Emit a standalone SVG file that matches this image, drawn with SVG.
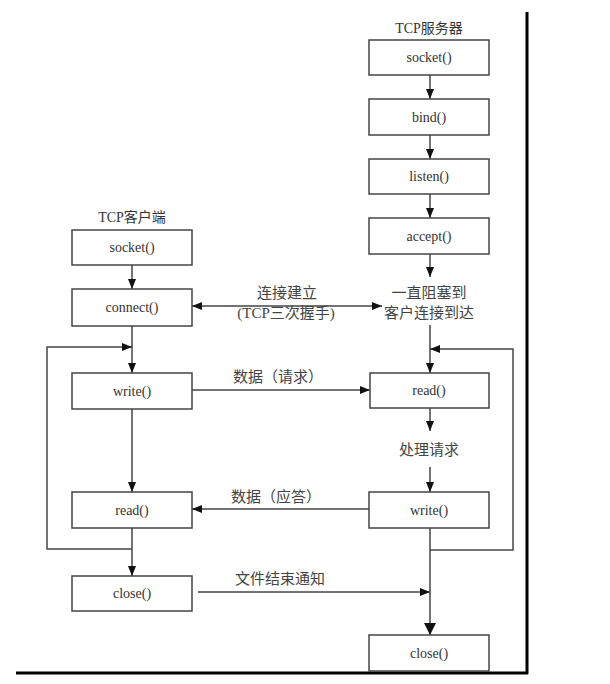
<svg xmlns="http://www.w3.org/2000/svg" width="610" height="684" viewBox="0 0 610 684">
<style>
.box{fill:#fff;stroke:#444;stroke-width:1.5}
.t{font-family:"Liberation Serif","Noto Sans CJK SC",serif;font-size:14px;fill:#333;text-anchor:middle}
.c{font-family:"Liberation Serif","Noto Sans CJK SC",serif;font-size:15px;fill:#444;text-anchor:middle}
.ln{fill:none;stroke:#444;stroke-width:1.5}
</style>
<defs>
<marker id="ah" markerUnits="userSpaceOnUse" markerWidth="10" markerHeight="10" viewBox="0 0 10 10" refX="10" refY="5" orient="auto-start-reverse">
<path d="M0,1 L10,5 L0,9 Z" fill="#111"/>
</marker>
<marker id="ahb" markerUnits="userSpaceOnUse" markerWidth="12" markerHeight="14" viewBox="0 0 12 14" refX="12" refY="7" orient="auto">
<path d="M0,1 L12,7 L0,13 Z" fill="#111"/>
</marker>
</defs>
<rect width="610" height="684" fill="#fff"/>
<g id="frame">
<line x1="527" y1="12" x2="527" y2="674" stroke="#000" stroke-width="3"/>
<line x1="16" y1="673" x2="528" y2="673" stroke="#000" stroke-width="3"/>
</g>
<g id="connectors">
<line class="ln" x1="430" y1="75" x2="430" y2="99" marker-end="url(#ah)"/>
<line class="ln" x1="430" y1="135" x2="430" y2="159" marker-end="url(#ah)"/>
<line class="ln" x1="430" y1="194" x2="430" y2="218" marker-end="url(#ah)"/>
<line class="ln" x1="430" y1="254" x2="430" y2="277" marker-end="url(#ah)"/>
<line class="ln" x1="430" y1="325" x2="430" y2="373" marker-end="url(#ah)"/>
<polyline class="ln" points="430,550 513,550 513,349 430,349" marker-end="url(#ah)"/>
<line class="ln" x1="430" y1="408" x2="430" y2="431" marker-end="url(#ah)"/>
<line class="ln" x1="430" y1="467" x2="430" y2="492" marker-end="url(#ah)"/>
<line class="ln" x1="430" y1="528" x2="430" y2="635" marker-end="url(#ahb)"/>
<line class="ln" x1="132" y1="265" x2="132" y2="289" marker-end="url(#ah)"/>
<line class="ln" x1="132" y1="326" x2="132" y2="373" marker-end="url(#ah)"/>
<polyline class="ln" points="132,549 47,549 47,347 132,347" marker-end="url(#ah)"/>
<line class="ln" x1="132" y1="409" x2="132" y2="492" marker-end="url(#ah)"/>
<line class="ln" x1="132" y1="528" x2="132" y2="576" marker-end="url(#ah)"/>
<line class="ln" x1="192" y1="306" x2="382" y2="306" marker-start="url(#ah)" marker-end="url(#ah)"/>
<line class="ln" x1="192" y1="390" x2="370" y2="390" marker-end="url(#ah)"/>
<line class="ln" x1="369" y1="509" x2="192" y2="509" marker-end="url(#ah)"/>
<line class="ln" x1="198" y1="592" x2="430" y2="592" marker-end="url(#ah)"/>
<text class="c" x="287" y="298">连接建立</text>
<text class="c" x="286" y="318">(TCP三次握手)</text>
<text class="c" x="278" y="382">数据（请求）</text>
<text class="c" x="276" y="502">数据（应答）</text>
<text class="c" x="280" y="584">文件结束通知</text>
<text class="c" x="429" y="298">一直阻塞到</text>
<text class="c" x="429" y="318">客户连接到达</text>
<text class="c" x="429" y="455">处理请求</text>
</g>
<g id="server-title"><text class="t" x="429" y="33">TCP服务器</text></g>
<g id="s-socket"><rect class="box" x="369" y="40" width="120" height="35"/><text class="t" x="429" y="62">socket()</text></g>
<g id="s-bind"><rect class="box" x="369" y="99" width="120" height="36"/><text class="t" x="429" y="122">bind()</text></g>
<g id="s-listen"><rect class="box" x="369" y="159" width="120" height="35"/><text class="t" x="429" y="181">listen()</text></g>
<g id="s-accept"><rect class="box" x="369" y="218" width="120" height="36"/><text class="t" x="429" y="241">accept()</text></g>
<g id="s-read"><rect class="box" x="370" y="373" width="119" height="35"/><text class="t" x="429" y="395">read()</text></g>
<g id="s-write"><rect class="box" x="369" y="492" width="120" height="36"/><text class="t" x="429" y="515">write()</text></g>
<g id="s-close"><rect class="box" x="369" y="635" width="120" height="36"/><text class="t" x="429" y="658">close()</text></g>
<g id="client-title"><text class="t" x="132" y="222">TCP客户端</text></g>
<g id="c-socket"><rect class="box" x="72" y="230" width="120" height="35"/><text class="t" x="132" y="252">socket()</text></g>
<g id="c-connect"><rect class="box" x="72" y="289" width="120" height="37"/><text class="t" x="132" y="312">connect()</text></g>
<g id="c-write"><rect class="box" x="72" y="373" width="120" height="36"/><text class="t" x="132" y="396">write()</text></g>
<g id="c-read"><rect class="box" x="72" y="492" width="120" height="36"/><text class="t" x="132" y="515">read()</text></g>
<g id="c-close"><rect class="box" x="72" y="576" width="120" height="35"/><text class="t" x="132" y="598">close()</text></g>
</svg>
